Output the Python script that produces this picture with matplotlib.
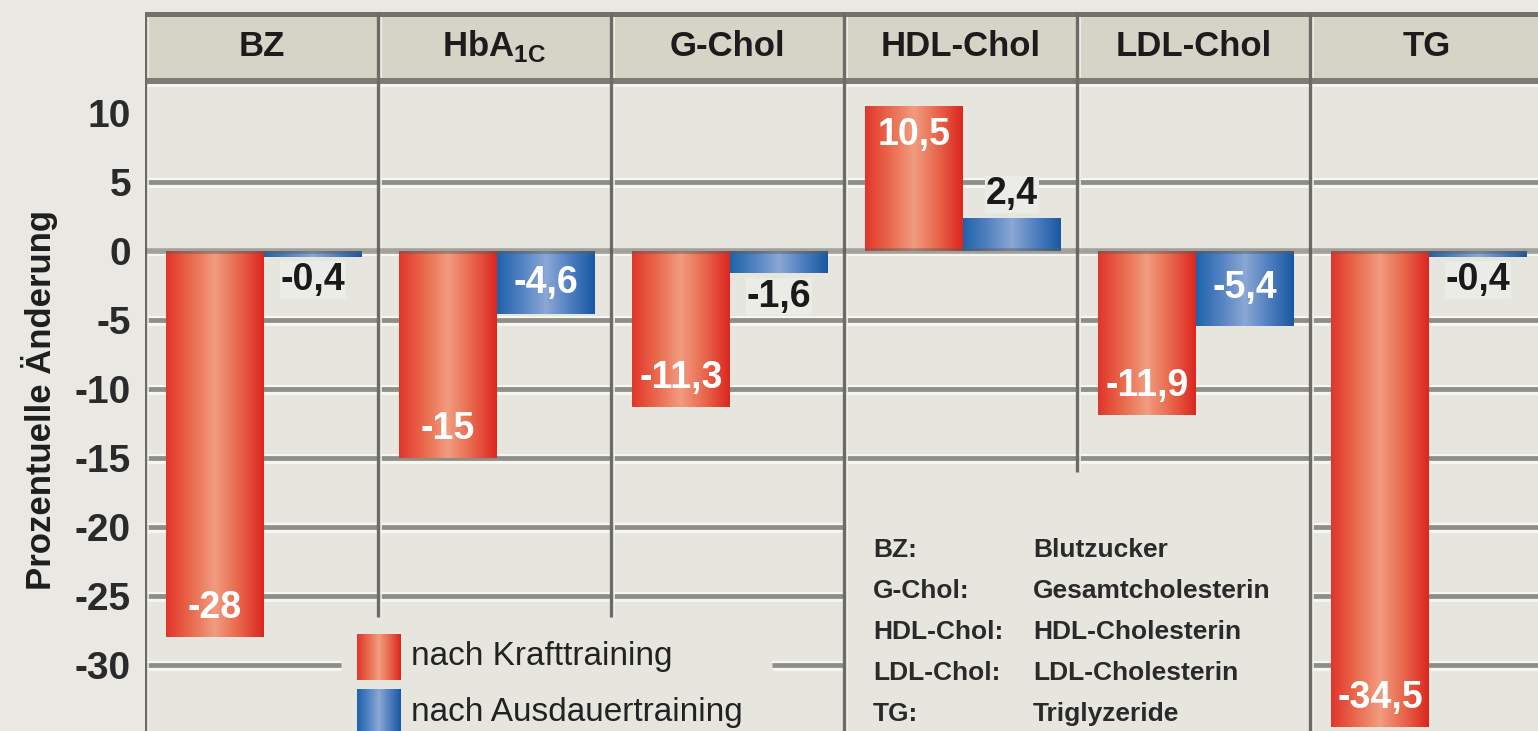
import numpy as np
import matplotlib
matplotlib.use('Agg')
import matplotlib.pyplot as plt
from matplotlib.colors import LinearSegmentedColormap
from matplotlib.patches import Rectangle

# ---------------- data ----------------
categories = ['BZ', r'HbA$_{\mathregular{1C}}$', 'G-Chol', 'HDL-Chol', 'LDL-Chol', 'TG']
kraft = [-28, -15, -11.3, 10.5, -11.9, -34.5]
ausdauer = [-0.4, -4.6, -1.6, 2.4, -5.4, -0.4]
kraft_labels = ['-28', '-15', '-11,3', '10,5', '-11,9', '-34,5']
ausdauer_labels = ['-0,4', '-4,6', '-1,6', '2,4', '-5,4', '-0,4']
yticks = [10, 5, 0, -5, -10, -15, -20, -25, -30]
ytick_labels = ['10', '5', '0', '-5', '-10', '-15', '-20', '-25', '-30']
grid_values = [5, 0, -5, -10, -15, -20, -25, -30]
series_names = ['nach Krafttraining', 'nach Ausdauertraining']
abbr_short = ['BZ:', 'G-Chol:', 'HDL-Chol:', 'LDL-Chol:', 'TG:']
abbr_long = ['Blutzucker', 'Gesamtcholesterin', 'HDL-Cholesterin', 'LDL-Cholesterin', 'Triglyzeride']
ylabel = 'Prozentuelle Änderung'

FONT = ['Liberation Sans', 'DejaVu Sans']
plt.rcParams['font.family'] = FONT
plt.rcParams['mathtext.fontset'] = 'custom'
plt.rcParams['mathtext.rm'] = 'Liberation Sans:bold'

W, H = 1538, 731
fig = plt.figure(figsize=(W / 100, H / 100), dpi=100)
fig.patch.set_facecolor('#e9e8e2')

X0 = 145          # px, left frame
TOP = 12          # px, top of header
ZERO = 251        # px, y of value 0
PXU = 13.8        # px per unit
COLW = 233.0      # px per category

ax = fig.add_axes([X0 / W, 0, 1 - X0 / W, (H - TOP) / H])
ax.set_facecolor('#e6e5de')
xmin = -0.5
xmax = xmin + (W - X0) / COLW
ymin = -(H - ZERO) / PXU
ymax = (ZERO - TOP) / PXU
head_bot = (ZERO - 81) / PXU

for s in ax.spines.values():
    s.set_visible(False)

# header band
ax.axhspan(head_bot, ymax, color='#d5d4c6', zorder=0.5)
ax.axhline(ymax - 2.5 / PXU, color='#72716d', lw=3.6, zorder=3)
ax.axhline(head_bot, color='#7d7b76', lw=4.3, zorder=3)
ax.axhline(head_bot - 4 / PXU, color='#f6f6f0', lw=2.0, zorder=2.9)

n = len(categories)
xs = np.arange(n)

# gridlines (interrupted where the legend / abbreviation box sits)
box_x0, box_x1 = 2.5, 4.5
leg_x0, leg_x1 = 0.34, 2.19
def grid_segments(v):
    if v >= -15:
        return [(xmin, xmax)]
    if v > -30:
        return [(xmin, box_x0), (box_x1, xmax)]
    return [(xmin, leg_x0), (leg_x1, box_x0), (box_x1, xmax)]

for v in grid_values:
    for a, b in grid_segments(v):
        if v == 0:
            continue
        ax.hlines(v - 3.5 / PXU, a, b, color='#f7f7f1', lw=2.2, zorder=1)
        ax.hlines(v + 3.5 / PXU, a, b, color='#f7f7f1', lw=1.5, zorder=1)
        ax.hlines(v, a, b, color='#8e8d88', lw=3.4, zorder=1.2)

# vertical separators
vlines_bottom = [ymin, (ZERO - 617) / PXU, (ZERO - 617) / PXU, ymin, (ZERO - 472) / PXU, ymin]
for i in range(n):
    xv = i - 0.5
    bottom = vlines_bottom[i]
    ax.vlines(xv + 3 / COLW, bottom, ymax, color='#f3f3ed', lw=1.2, zorder=1.3)
    ax.vlines(xv, bottom, ymax, color='#6c6b67', lw=2.4, zorder=3)

# bars with gradient
red_cmap = LinearSegmentedColormap.from_list('r', ['#e1352b', '#e9694c', '#f19c80', '#e8654a', '#dc2620'])
blue_cmap = LinearSegmentedColormap.from_list('b', ['#1f63aa', '#5282c1', '#8ba7d5', '#4e7ebf', '#1858a2'])
grad = np.linspace(0, 1, 256).reshape(1, -1)

def gradient_bars(container, cmap):
    for p in container.patches:
        x0, y0 = p.get_x(), p.get_y()
        w, h = p.get_width(), p.get_height()
        im = ax.imshow(grad, cmap=cmap, aspect='auto', interpolation='bilinear',
                       extent=(x0, x0 + w, min(y0, y0 + h), max(y0, y0 + h)),
                       zorder=p.get_zorder() + 0.05)
        im.set_clip_path(p)

bw = 0.42
b1 = ax.bar(xs - 0.2, kraft, width=bw, color='#e8654a', zorder=4, linewidth=0)
b2 = ax.bar(xs + 0.22, ausdauer, width=bw, color='#4e7ebf', zorder=4, linewidth=0)
gradient_bars(b1, red_cmap)
gradient_bars(b2, blue_cmap)

# zero line drawn over bars
ax.axhline(0, color='#5f5d58', alpha=0.5, lw=4.0, zorder=5)
ax.axhline(0 - 4 / PXU, color='#f7f7f1', lw=1.5, zorder=1)

# value labels
VFS = 27
for i, (v, lab) in enumerate(zip(kraft, kraft_labels)):
    sgn = 1 if v > 0 else -1
    ax.text(i - 0.2, v - sgn * 2.1, lab, ha='center', va='center', color='white',
            fontsize=VFS, fontweight='bold', zorder=6)
for i, (v, lab) in enumerate(zip(ausdauer, ausdauer_labels)):
    sgn = 1 if v > 0 else -1
    if abs(v) >= 4:
        ax.text(i + 0.22, v / 2, lab, ha='center', va='center', color='white',
                fontsize=VFS, fontweight='bold', zorder=6)
    else:
        ax.text(i + 0.22, v + sgn * 1.7, lab, ha='center', va='center', color='#1a1a1a',
                fontsize=VFS, fontweight='bold', zorder=6,
                bbox=dict(facecolor='#ecece6', edgecolor='none', pad=0.5))

# header labels
for i, c in enumerate(categories):
    ax.text(i, (ZERO - 46) / PXU, c, ha='center', va='center', fontsize=25,
            fontweight='bold', color='#1c1c1c', zorder=6)

# y axis ticks
ax.set_yticks(yticks)
ax.set_yticklabels(ytick_labels, fontsize=28, fontweight='bold', color='#2a2a2a')
ax.tick_params(axis='y', length=0, pad=10)
ax.set_xticks([])
ax.set_xlim(xmin, xmax)
ax.set_ylim(ymin, ymax)

fig.text(40 / W, 1 - 400 / H, ylabel, rotation=90, ha='center', va='center',
         fontsize=25, fontweight='bold', color='#1e1e1e')

# legend (manual, gradient swatches)
def px_to_data(px, py):
    return xmin + (px - X0) / COLW, (ZERO - py) / PXU

for k, (name, cmap, col) in enumerate(zip(series_names, [red_cmap, blue_cmap], ['#e8654a', '#4e7ebf'])):
    top_py = 634 + k * 55
    xa, ya = px_to_data(357, top_py)
    xb, yb = px_to_data(401, top_py + 46)
    r = Rectangle((xa, yb), xb - xa, ya - yb, facecolor=col, edgecolor='none', zorder=4)
    ax.add_patch(r)
    im = ax.imshow(grad, cmap=cmap, aspect='auto', interpolation='bilinear',
                   extent=(xa, xb, yb, ya), zorder=4.05)
    im.set_clip_path(r)
    tx, ty = px_to_data(411, top_py + 23)
    ax.text(tx, ty, name, ha='left', va='center', fontsize=24, color='#222222', zorder=6)

# abbreviation box
for k, (s, l) in enumerate(zip(abbr_short, abbr_long)):
    py = 550 + k * 41
    x1, y1 = px_to_data(873, py)
    x2, _ = px_to_data(1033, py)
    ax.text(x1, y1, s, ha='left', va='center', fontsize=19, fontweight='bold', color='#2a2a2a', zorder=6)
    ax.text(x2, y1, l, ha='left', va='center', fontsize=19, fontweight='bold', color='#2a2a2a', zorder=6)

ax.set_xlim(xmin, xmax)
ax.set_ylim(ymin, ymax)
fig.savefig('out.png', dpi=100, facecolor=fig.get_facecolor())
